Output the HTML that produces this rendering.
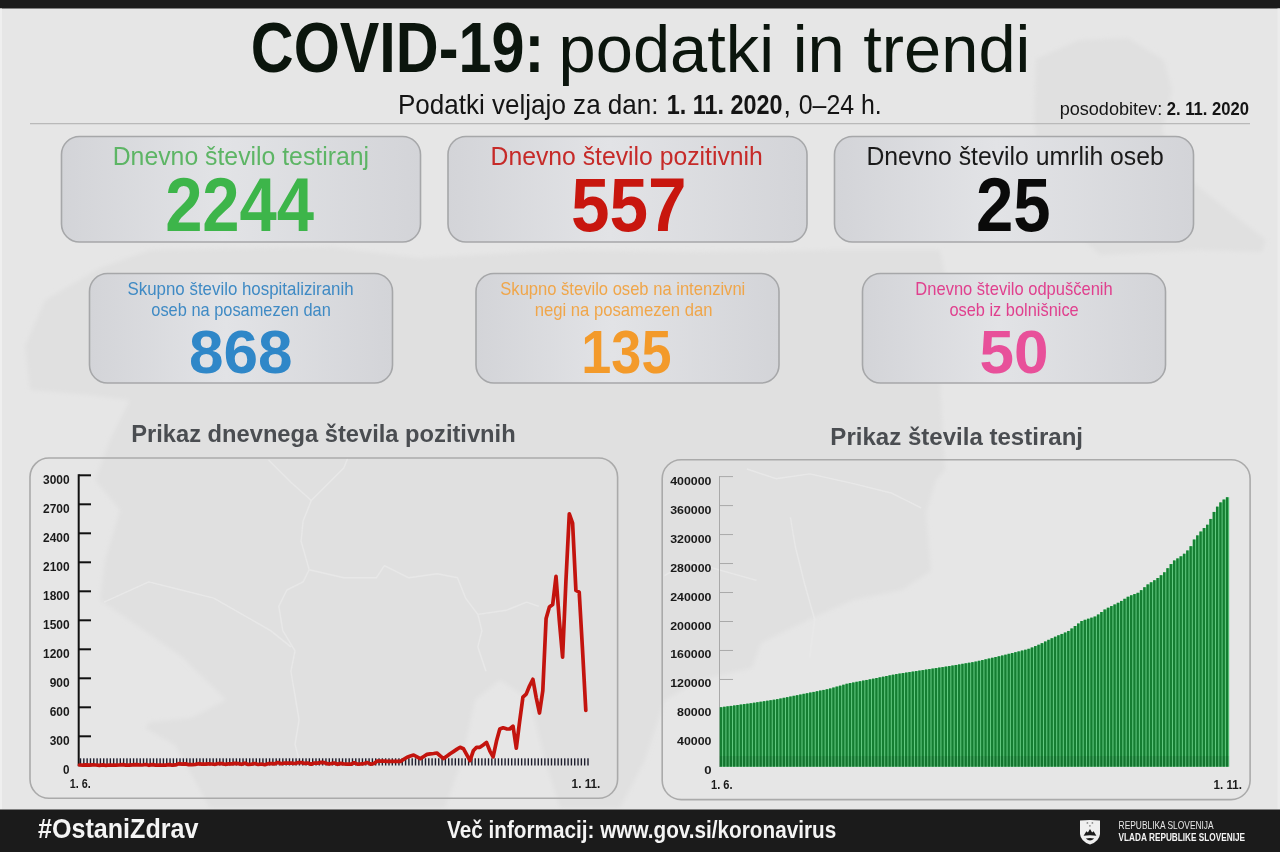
<!DOCTYPE html>
<html lang="sl"><head><meta charset="utf-8"><title>COVID-19: podatki in trendi</title>
<style>
html,body{margin:0;padding:0;background:#e6e6e6;}
body{width:1280px;height:852px;overflow:hidden;}
svg{display:block;}
svg text{font-family:"Liberation Sans", Arial, sans-serif;}
</style></head><body>
<svg width="1280" height="852" viewBox="0 0 1280 852">
<defs>
<linearGradient id="bx" x1="0" y1="0" x2="1" y2="0">
<stop offset="0" stop-color="#d3d4d8"/><stop offset="0.45" stop-color="#e2e3e6"/><stop offset="1" stop-color="#d3d4d8"/>
</linearGradient>
<filter id="soft" x="-5%" y="-5%" width="110%" height="110%"><feGaussianBlur stdDeviation="2"/></filter>
</defs>
<rect width="1280" height="852" fill="#e6e6e6"/>
<g fill="#e0e0e0" filter="url(#soft)">
<path d="M45,300 L100,268 L150,250 L330,247 L420,258 L560,250 L700,252 L830,250 L940,250 L950,300 L940,380 L945,470 L936,480 L926,513 L931,571 L902,590 L853,600 L810,619 L761,643 L752,668 L700,680 L665,700 L645,760 L620,808 L560,808 L545,760 L530,700 L500,680 L475,700 L462,760 L445,808 L210,808 L175,745 L145,728 L150,722 L191,718 L226,700 L182,657 L139,627 L100,600 L105,560 L120,510 L95,480 L110,440 L130,400 L90,395 L30,390 L25,346 Z"/>
<path d="M1036,59 L1079,40 L1128,38 L1164,60 L1172,90 L1162,130 L1178,170 L1215,200 L1266,240 L1262,252 L1200,250 L1100,255 L1045,205 L1034,120 Z"/>
</g>
<g fill="none" stroke="#e9e9e9" stroke-width="1.4" stroke-linejoin="round" opacity="0.9">
<polyline points="268.6,460 290.9,482.3 311.3,500.6 303.1,520.9 301.1,541.3 309.2,569.7 303.1,581.9 286.9,590 278.8,606.3 282.8,630.6 295,650.9 290.9,671.3 295,695.6 299.1,720 295,744.4 299.1,759.8"/>
<polyline points="311.3,500.6 343.8,468.1 347.8,458"/>
<polyline points="104,602.2 148.8,581.9 181.3,590 213.8,598.1 242.2,614.4 270.6,630.6 290.9,646.9"/>
<polyline points="309.2,569.7 343.8,577.8 376.3,577.8 384.4,565.6 408.8,577.8 437.2,573.8 457.5,577.8 465.6,598.1 477.8,614.4 481.9,630.6 477.8,646.9 485.9,671.3"/>
<polyline points="477.8,614.4 506.3,610.3 526.6,602.2 538.8,606.3"/>
<polyline points="664.5,575.6 688.7,561 722.6,570.8 756.5,580.4"/>
<polyline points="746.9,469 775.9,478.7 809.8,473.9 853.4,483.6 892.1,493.3 921.2,507.8"/>
<polyline points="790.4,517.5 795.3,546.5 805,585.3 814.6,619.2 809.8,657.9"/>
</g>
<rect x="0" y="0" width="1280" height="8.5" fill="#1b1b1b"/>
<rect x="0" y="8.5" width="2" height="801" fill="#efefef"/>
<rect x="1277.5" y="8.5" width="2.5" height="801" fill="#ececec"/>
<line x1="30" y1="123.6" x2="1250" y2="123.6" stroke="#b9b9b9" stroke-width="1.2"/>
<rect x="61.5" y="136.5" width="359" height="105.5" rx="18" ry="18" fill="url(#bx)" stroke="#a6a7a9" stroke-width="1.6"/>
<rect x="448" y="136.5" width="359" height="105.5" rx="18" ry="18" fill="url(#bx)" stroke="#a6a7a9" stroke-width="1.6"/>
<rect x="834.5" y="136.5" width="359" height="105.5" rx="18" ry="18" fill="url(#bx)" stroke="#a6a7a9" stroke-width="1.6"/>
<rect x="89.5" y="273.5" width="303" height="109.5" rx="18" ry="18" fill="url(#bx)" stroke="#a6a7a9" stroke-width="1.6"/>
<rect x="476" y="273.5" width="303" height="109.5" rx="18" ry="18" fill="url(#bx)" stroke="#a6a7a9" stroke-width="1.6"/>
<rect x="862.5" y="273.5" width="303" height="109.5" rx="18" ry="18" fill="url(#bx)" stroke="#a6a7a9" stroke-width="1.6"/>

<rect x="30" y="458" width="587.6" height="340.3" rx="19" ry="19" fill="none" stroke="#aaaaaa" stroke-width="1.6"/>
<rect x="662.2" y="459.7" width="587.9" height="339.9" rx="19" ry="19" fill="none" stroke="#aaaaaa" stroke-width="1.6"/>
<!-- left chart -->
<g stroke="#111" stroke-width="2">
<line x1="78.7" y1="474.2" x2="78.7" y2="766.3"/>
<line x1="78.7" y1="736.30" x2="91" y2="736.30"/><line x1="78.7" y1="707.30" x2="91" y2="707.30"/><line x1="78.7" y1="678.30" x2="91" y2="678.30"/><line x1="78.7" y1="649.30" x2="91" y2="649.30"/><line x1="78.7" y1="620.30" x2="91" y2="620.30"/><line x1="78.7" y1="591.30" x2="91" y2="591.30"/><line x1="78.7" y1="562.30" x2="91" y2="562.30"/><line x1="78.7" y1="533.30" x2="91" y2="533.30"/><line x1="78.7" y1="504.30" x2="91" y2="504.30"/><line x1="78.7" y1="475.30" x2="91" y2="475.30"/>
</g>
<g fill="#1c1c2c"><rect x="79.80" y="758.3" width="1.4" height="7.2"/><rect x="83.12" y="758.3" width="1.4" height="7.2"/><rect x="86.43" y="758.3" width="1.4" height="7.2"/><rect x="89.75" y="758.3" width="1.4" height="7.2"/><rect x="93.07" y="758.3" width="1.4" height="7.2"/><rect x="96.38" y="758.3" width="1.4" height="7.2"/><rect x="99.70" y="758.3" width="1.4" height="7.2"/><rect x="103.02" y="758.3" width="1.4" height="7.2"/><rect x="106.34" y="758.3" width="1.4" height="7.2"/><rect x="109.65" y="758.3" width="1.4" height="7.2"/><rect x="112.97" y="758.3" width="1.4" height="7.2"/><rect x="116.29" y="758.3" width="1.4" height="7.2"/><rect x="119.60" y="758.3" width="1.4" height="7.2"/><rect x="122.92" y="758.3" width="1.4" height="7.2"/><rect x="126.24" y="758.3" width="1.4" height="7.2"/><rect x="129.55" y="758.3" width="1.4" height="7.2"/><rect x="132.87" y="758.3" width="1.4" height="7.2"/><rect x="136.19" y="758.3" width="1.4" height="7.2"/><rect x="139.51" y="758.3" width="1.4" height="7.2"/><rect x="142.82" y="758.3" width="1.4" height="7.2"/><rect x="146.14" y="758.3" width="1.4" height="7.2"/><rect x="149.46" y="758.3" width="1.4" height="7.2"/><rect x="152.77" y="758.3" width="1.4" height="7.2"/><rect x="156.09" y="758.3" width="1.4" height="7.2"/><rect x="159.41" y="758.3" width="1.4" height="7.2"/><rect x="162.72" y="758.3" width="1.4" height="7.2"/><rect x="166.04" y="758.3" width="1.4" height="7.2"/><rect x="169.36" y="758.3" width="1.4" height="7.2"/><rect x="172.68" y="758.3" width="1.4" height="7.2"/><rect x="175.99" y="758.3" width="1.4" height="7.2"/><rect x="179.31" y="758.3" width="1.4" height="7.2"/><rect x="182.63" y="758.3" width="1.4" height="7.2"/><rect x="185.94" y="758.3" width="1.4" height="7.2"/><rect x="189.26" y="758.3" width="1.4" height="7.2"/><rect x="192.58" y="758.3" width="1.4" height="7.2"/><rect x="195.89" y="758.3" width="1.4" height="7.2"/><rect x="199.21" y="758.3" width="1.4" height="7.2"/><rect x="202.53" y="758.3" width="1.4" height="7.2"/><rect x="205.85" y="758.3" width="1.4" height="7.2"/><rect x="209.16" y="758.3" width="1.4" height="7.2"/><rect x="212.48" y="758.3" width="1.4" height="7.2"/><rect x="215.80" y="758.3" width="1.4" height="7.2"/><rect x="219.11" y="758.3" width="1.4" height="7.2"/><rect x="222.43" y="758.3" width="1.4" height="7.2"/><rect x="225.75" y="758.3" width="1.4" height="7.2"/><rect x="229.06" y="758.3" width="1.4" height="7.2"/><rect x="232.38" y="758.3" width="1.4" height="7.2"/><rect x="235.70" y="758.3" width="1.4" height="7.2"/><rect x="239.02" y="758.3" width="1.4" height="7.2"/><rect x="242.33" y="758.3" width="1.4" height="7.2"/><rect x="245.65" y="758.3" width="1.4" height="7.2"/><rect x="248.97" y="758.3" width="1.4" height="7.2"/><rect x="252.28" y="758.3" width="1.4" height="7.2"/><rect x="255.60" y="758.3" width="1.4" height="7.2"/><rect x="258.92" y="758.3" width="1.4" height="7.2"/><rect x="262.23" y="758.3" width="1.4" height="7.2"/><rect x="265.55" y="758.3" width="1.4" height="7.2"/><rect x="268.87" y="758.3" width="1.4" height="7.2"/><rect x="272.19" y="758.3" width="1.4" height="7.2"/><rect x="275.50" y="758.3" width="1.4" height="7.2"/><rect x="278.82" y="758.3" width="1.4" height="7.2"/><rect x="282.14" y="758.3" width="1.4" height="7.2"/><rect x="285.45" y="758.3" width="1.4" height="7.2"/><rect x="288.77" y="758.3" width="1.4" height="7.2"/><rect x="292.09" y="758.3" width="1.4" height="7.2"/><rect x="295.40" y="758.3" width="1.4" height="7.2"/><rect x="298.72" y="758.3" width="1.4" height="7.2"/><rect x="302.04" y="758.3" width="1.4" height="7.2"/><rect x="305.36" y="758.3" width="1.4" height="7.2"/><rect x="308.67" y="758.3" width="1.4" height="7.2"/><rect x="311.99" y="758.3" width="1.4" height="7.2"/><rect x="315.31" y="758.3" width="1.4" height="7.2"/><rect x="318.62" y="758.3" width="1.4" height="7.2"/><rect x="321.94" y="758.3" width="1.4" height="7.2"/><rect x="325.26" y="758.3" width="1.4" height="7.2"/><rect x="328.57" y="758.3" width="1.4" height="7.2"/><rect x="331.89" y="758.3" width="1.4" height="7.2"/><rect x="335.21" y="758.3" width="1.4" height="7.2"/><rect x="338.53" y="758.3" width="1.4" height="7.2"/><rect x="341.84" y="758.3" width="1.4" height="7.2"/><rect x="345.16" y="758.3" width="1.4" height="7.2"/><rect x="348.48" y="758.3" width="1.4" height="7.2"/><rect x="351.79" y="758.3" width="1.4" height="7.2"/><rect x="355.11" y="758.3" width="1.4" height="7.2"/><rect x="358.43" y="758.3" width="1.4" height="7.2"/><rect x="361.74" y="758.3" width="1.4" height="7.2"/><rect x="365.06" y="758.3" width="1.4" height="7.2"/><rect x="368.38" y="758.3" width="1.4" height="7.2"/><rect x="371.70" y="758.3" width="1.4" height="7.2"/><rect x="375.01" y="758.3" width="1.4" height="7.2"/><rect x="378.33" y="758.3" width="1.4" height="7.2"/><rect x="381.65" y="758.3" width="1.4" height="7.2"/><rect x="384.96" y="758.3" width="1.4" height="7.2"/><rect x="388.28" y="758.3" width="1.4" height="7.2"/><rect x="391.60" y="758.3" width="1.4" height="7.2"/><rect x="394.91" y="758.3" width="1.4" height="7.2"/><rect x="398.23" y="758.3" width="1.4" height="7.2"/><rect x="401.55" y="758.3" width="1.4" height="7.2"/><rect x="404.87" y="758.3" width="1.4" height="7.2"/><rect x="408.18" y="758.3" width="1.4" height="7.2"/><rect x="411.50" y="758.3" width="1.4" height="7.2"/><rect x="414.82" y="758.3" width="1.4" height="7.2"/><rect x="418.13" y="758.3" width="1.4" height="7.2"/><rect x="421.45" y="758.3" width="1.4" height="7.2"/><rect x="424.77" y="758.3" width="1.4" height="7.2"/><rect x="428.08" y="758.3" width="1.4" height="7.2"/><rect x="431.40" y="758.3" width="1.4" height="7.2"/><rect x="434.72" y="758.3" width="1.4" height="7.2"/><rect x="438.04" y="758.3" width="1.4" height="7.2"/><rect x="441.35" y="758.3" width="1.4" height="7.2"/><rect x="444.67" y="758.3" width="1.4" height="7.2"/><rect x="447.99" y="758.3" width="1.4" height="7.2"/><rect x="451.30" y="758.3" width="1.4" height="7.2"/><rect x="454.62" y="758.3" width="1.4" height="7.2"/><rect x="457.94" y="758.3" width="1.4" height="7.2"/><rect x="461.25" y="758.3" width="1.4" height="7.2"/><rect x="464.57" y="758.3" width="1.4" height="7.2"/><rect x="467.89" y="758.3" width="1.4" height="7.2"/><rect x="471.21" y="758.3" width="1.4" height="7.2"/><rect x="474.52" y="758.3" width="1.4" height="7.2"/><rect x="477.84" y="758.3" width="1.4" height="7.2"/><rect x="481.16" y="758.3" width="1.4" height="7.2"/><rect x="484.47" y="758.3" width="1.4" height="7.2"/><rect x="487.79" y="758.3" width="1.4" height="7.2"/><rect x="491.11" y="758.3" width="1.4" height="7.2"/><rect x="494.42" y="758.3" width="1.4" height="7.2"/><rect x="497.74" y="758.3" width="1.4" height="7.2"/><rect x="501.06" y="758.3" width="1.4" height="7.2"/><rect x="504.38" y="758.3" width="1.4" height="7.2"/><rect x="507.69" y="758.3" width="1.4" height="7.2"/><rect x="511.01" y="758.3" width="1.4" height="7.2"/><rect x="514.33" y="758.3" width="1.4" height="7.2"/><rect x="517.64" y="758.3" width="1.4" height="7.2"/><rect x="520.96" y="758.3" width="1.4" height="7.2"/><rect x="524.28" y="758.3" width="1.4" height="7.2"/><rect x="527.59" y="758.3" width="1.4" height="7.2"/><rect x="530.91" y="758.3" width="1.4" height="7.2"/><rect x="534.23" y="758.3" width="1.4" height="7.2"/><rect x="537.55" y="758.3" width="1.4" height="7.2"/><rect x="540.86" y="758.3" width="1.4" height="7.2"/><rect x="544.18" y="758.3" width="1.4" height="7.2"/><rect x="547.50" y="758.3" width="1.4" height="7.2"/><rect x="550.81" y="758.3" width="1.4" height="7.2"/><rect x="554.13" y="758.3" width="1.4" height="7.2"/><rect x="557.45" y="758.3" width="1.4" height="7.2"/><rect x="560.76" y="758.3" width="1.4" height="7.2"/><rect x="564.08" y="758.3" width="1.4" height="7.2"/><rect x="567.40" y="758.3" width="1.4" height="7.2"/><rect x="570.72" y="758.3" width="1.4" height="7.2"/><rect x="574.03" y="758.3" width="1.4" height="7.2"/><rect x="577.35" y="758.3" width="1.4" height="7.2"/><rect x="580.67" y="758.3" width="1.4" height="7.2"/><rect x="583.98" y="758.3" width="1.4" height="7.2"/><rect x="587.30" y="758.3" width="1.4" height="7.2"/></g>
<polyline points="79.5,765.0 82.8,765.2 86.1,764.8 89.4,765.2 92.7,764.9 96.0,765.0 99.4,765.3 102.7,764.9 106.0,765.3 109.3,765.0 112.6,765.2 115.9,765.2 119.2,765.0 122.5,764.7 125.8,765.2 129.1,765.1 132.4,764.8 135.8,764.6 139.1,764.9 142.4,765.0 145.7,764.5 149.0,765.3 152.3,764.6 155.6,765.1 158.9,765.2 162.2,765.2 165.5,765.1 168.8,764.7 172.2,765.2 175.5,764.9 178.8,763.7 182.1,764.1 185.4,763.9 188.7,764.6 192.0,764.6 195.3,764.4 198.6,763.7 201.9,764.1 205.2,764.2 208.6,763.8 211.9,764.0 215.2,764.3 218.5,763.5 221.8,763.6 225.1,764.3 228.4,763.8 231.7,763.9 235.0,763.4 238.3,763.6 241.6,764.3 245.0,763.2 248.3,764.5 251.6,764.1 254.9,763.5 258.2,764.5 261.5,764.0 264.8,764.7 268.1,763.7 271.4,763.5 274.7,763.8 278.0,762.6 281.4,763.7 284.7,763.0 288.0,763.2 291.3,763.2 294.6,763.5 297.9,762.7 301.2,762.5 304.5,763.4 307.8,763.0 311.1,764.2 314.4,763.0 317.8,763.1 321.1,762.4 324.4,762.7 327.7,763.8 331.0,763.6 334.3,763.0 337.6,764.3 340.9,763.4 344.2,764.0 347.5,764.1 350.9,764.2 354.2,762.8 357.5,764.1 360.8,763.9 364.1,763.6 367.4,762.6 370.7,764.2 374.0,763.5 377.3,761.1 380.6,761.2 383.9,761.2 387.3,761.3 390.6,761.3 393.9,761.4 397.2,761.4 400.5,761.4 403.8,759.3 407.1,757.2 410.4,756.1 413.7,755.0 417.0,756.8 420.3,758.6 423.7,756.5 427.0,754.4 430.3,753.9 433.6,753.5 436.9,753.0 440.2,755.8 443.5,758.6 446.8,756.2 450.1,753.7 453.4,751.6 456.7,749.4 460.1,747.3 463.4,748.7 466.7,754.7 470.0,760.7 473.3,750.8 476.6,747.3 479.9,747.3 483.2,745.0 486.5,742.4 489.8,750.8 493.1,756.8 496.5,741.1 499.8,729.0 503.1,727.8 506.4,728.8 509.7,729.0 513.0,726.1 516.3,748.2 519.6,721.8 522.9,697.2 526.2,694.1 529.5,686.0 532.9,679.3 536.2,697.6 539.5,713.0 542.8,690.8 546.1,618.4 549.4,606.9 552.7,604.5 556.0,576.4 559.3,620.3 562.6,657.1 565.9,581.6 569.3,513.9 572.6,523.1 575.9,590.4 579.2,592.1 582.5,649.3 585.8,710.4" fill="none" stroke="#c3140e" stroke-width="3.7" stroke-linejoin="round" stroke-linecap="round"/>
<!-- right chart -->
<g stroke="#a9a9a9" stroke-width="1">
<line x1="719.5" y1="476" x2="719.5" y2="767"/>
<line x1="719.5" y1="737.42" x2="733" y2="737.42"/><line x1="719.5" y1="708.44" x2="733" y2="708.44"/><line x1="719.5" y1="679.46" x2="733" y2="679.46"/><line x1="719.5" y1="650.48" x2="733" y2="650.48"/><line x1="719.5" y1="621.50" x2="733" y2="621.50"/><line x1="719.5" y1="592.52" x2="733" y2="592.52"/><line x1="719.5" y1="563.54" x2="733" y2="563.54"/><line x1="719.5" y1="534.56" x2="733" y2="534.56"/><line x1="719.5" y1="505.58" x2="733" y2="505.58"/><line x1="719.5" y1="476.60" x2="733" y2="476.60"/>
</g>
<path d="M719.80,766.70 L719.80,707.22 L723.11,707.22 L723.11,706.77 L726.42,706.77 L726.42,706.33 L729.72,706.33 L729.72,705.88 L733.03,705.88 L733.03,705.44 L736.34,705.44 L736.34,704.99 L739.65,704.99 L739.65,704.54 L742.95,704.54 L742.95,704.10 L746.26,704.10 L746.26,703.65 L749.57,703.65 L749.57,703.19 L752.88,703.19 L752.88,702.69 L756.19,702.69 L756.19,702.19 L759.49,702.19 L759.49,701.69 L762.80,701.69 L762.80,701.20 L766.11,701.20 L766.11,700.70 L769.42,700.70 L769.42,700.20 L772.72,700.20 L772.72,699.70 L776.03,699.70 L776.03,699.14 L779.34,699.14 L779.34,698.48 L782.65,698.48 L782.65,697.83 L785.96,697.83 L785.96,697.17 L789.26,697.17 L789.26,696.51 L792.57,696.51 L792.57,695.85 L795.88,695.85 L795.88,695.19 L799.19,695.19 L799.19,694.53 L802.49,694.53 L802.49,693.87 L805.80,693.87 L805.80,693.21 L809.11,693.21 L809.11,692.55 L812.42,692.55 L812.42,691.89 L815.73,691.89 L815.73,691.22 L819.03,691.22 L819.03,690.56 L822.34,690.56 L822.34,689.90 L825.65,689.90 L825.65,689.24 L828.96,689.24 L828.96,688.48 L832.26,688.48 L832.26,687.54 L835.57,687.54 L835.57,686.60 L838.88,686.60 L838.88,685.66 L842.19,685.66 L842.19,684.71 L845.50,684.71 L845.50,683.77 L848.80,683.77 L848.80,683.06 L852.11,683.06 L852.11,682.44 L855.42,682.44 L855.42,681.81 L858.73,681.81 L858.73,681.19 L862.04,681.19 L862.04,680.57 L865.34,680.57 L865.34,679.95 L868.65,679.95 L868.65,679.32 L871.96,679.32 L871.96,678.66 L875.27,678.66 L875.27,678.00 L878.57,678.00 L878.57,677.33 L881.88,677.33 L881.88,676.67 L885.19,676.67 L885.19,676.01 L888.50,676.01 L888.50,675.35 L891.81,675.35 L891.81,674.69 L895.11,674.69 L895.11,674.07 L898.42,674.07 L898.42,673.57 L901.73,673.57 L901.73,673.07 L905.04,673.07 L905.04,672.58 L908.34,672.58 L908.34,672.08 L911.65,672.08 L911.65,671.58 L914.96,671.58 L914.96,671.09 L918.27,671.09 L918.27,670.59 L921.58,670.59 L921.58,670.09 L924.88,670.09 L924.88,669.59 L928.19,669.59 L928.19,669.09 L931.50,669.09 L931.50,668.59 L934.81,668.59 L934.81,668.09 L938.11,668.09 L938.11,667.59 L941.42,667.59 L941.42,667.09 L944.73,667.09 L944.73,666.59 L948.04,666.59 L948.04,666.08 L951.35,666.08 L951.35,665.52 L954.65,665.52 L954.65,664.96 L957.96,664.96 L957.96,664.40 L961.27,664.40 L961.27,663.84 L964.58,663.84 L964.58,663.29 L967.88,663.29 L967.88,662.73 L971.19,662.73 L971.19,662.17 L974.50,662.17 L974.50,661.57 L977.81,661.57 L977.81,660.81 L981.12,660.81 L981.12,660.06 L984.42,660.06 L984.42,659.30 L987.73,659.30 L987.73,658.54 L991.04,658.54 L991.04,657.78 L994.35,657.78 L994.35,657.02 L997.65,657.02 L997.65,656.26 L1000.96,656.26 L1000.96,655.50 L1004.27,655.50 L1004.27,654.67 L1007.58,654.67 L1007.58,653.85 L1010.89,653.85 L1010.89,653.02 L1014.19,653.02 L1014.19,652.20 L1017.50,652.20 L1017.50,651.38 L1020.81,651.38 L1020.81,650.55 L1024.12,650.55 L1024.12,649.73 L1027.42,649.73 L1027.42,648.84 L1030.73,648.84 L1030.73,647.47 L1034.04,647.47 L1034.04,646.09 L1037.35,646.09 L1037.35,644.72 L1040.66,644.72 L1040.66,643.15 L1043.96,643.15 L1043.96,641.51 L1047.27,641.51 L1047.27,639.87 L1050.58,639.87 L1050.58,638.23 L1053.89,638.23 L1053.89,636.70 L1057.19,636.70 L1057.19,635.31 L1060.50,635.31 L1060.50,633.93 L1063.81,633.93 L1063.81,632.54 L1067.12,632.54 L1067.12,630.97 L1070.43,630.97 L1070.43,628.48 L1073.73,628.48 L1073.73,626.00 L1077.04,626.00 L1077.04,623.51 L1080.35,623.51 L1080.35,621.02 L1083.66,621.02 L1083.66,619.81 L1086.96,619.81 L1086.96,618.72 L1090.27,618.72 L1090.27,617.64 L1093.58,617.64 L1093.58,616.55 L1096.89,616.55 L1096.89,614.51 L1100.20,614.51 L1100.20,612.01 L1103.50,612.01 L1103.50,609.51 L1106.81,609.51 L1106.81,607.73 L1110.12,607.73 L1110.12,606.08 L1113.43,606.08 L1113.43,604.44 L1116.74,604.44 L1116.74,602.80 L1120.04,602.80 L1120.04,600.91 L1123.35,600.91 L1123.35,598.83 L1126.66,598.83 L1126.66,596.76 L1129.97,596.76 L1129.97,595.30 L1133.27,595.30 L1133.27,594.07 L1136.58,594.07 L1136.58,592.84 L1139.89,592.84 L1139.89,590.13 L1143.20,590.13 L1143.20,587.25 L1146.51,587.25 L1146.51,584.40 L1149.81,584.40 L1149.81,582.32 L1153.12,582.32 L1153.12,580.25 L1156.43,580.25 L1156.43,578.02 L1159.74,578.02 L1159.74,575.24 L1163.04,575.24 L1163.04,572.33 L1166.35,572.33 L1166.35,568.21 L1169.66,568.21 L1169.66,564.09 L1172.97,564.09 L1172.97,560.48 L1176.28,560.48 L1176.28,558.41 L1179.58,558.41 L1179.58,556.33 L1182.89,556.33 L1182.89,553.76 L1186.20,553.76 L1186.20,550.45 L1189.51,550.45 L1189.51,546.18 L1192.81,546.18 L1192.81,539.56 L1196.12,539.56 L1196.12,535.38 L1199.43,535.38 L1199.43,531.56 L1202.74,531.56 L1202.74,528.07 L1206.05,528.07 L1206.05,524.72 L1209.35,524.72 L1209.35,518.92 L1212.66,518.92 L1212.66,511.92 L1215.97,511.92 L1215.97,506.65 L1219.28,506.65 L1219.28,502.38 L1222.58,502.38 L1222.58,499.59 L1225.89,499.59 L1225.89,497.28 L1229.20,497.28 L1229.20,766.70 Z" fill="#66cc84"/>
<g fill="#157e32"><rect x="719.80" y="707.22" width="2.31" height="59.48"/><rect x="723.11" y="706.77" width="2.31" height="59.93"/><rect x="726.42" y="706.33" width="2.31" height="60.37"/><rect x="729.72" y="705.88" width="2.31" height="60.82"/><rect x="733.03" y="705.44" width="2.31" height="61.26"/><rect x="736.34" y="704.99" width="2.31" height="61.71"/><rect x="739.65" y="704.54" width="2.31" height="62.16"/><rect x="742.95" y="704.10" width="2.31" height="62.60"/><rect x="746.26" y="703.65" width="2.31" height="63.05"/><rect x="749.57" y="703.19" width="2.31" height="63.51"/><rect x="752.88" y="702.69" width="2.31" height="64.01"/><rect x="756.19" y="702.19" width="2.31" height="64.51"/><rect x="759.49" y="701.69" width="2.31" height="65.01"/><rect x="762.80" y="701.20" width="2.31" height="65.50"/><rect x="766.11" y="700.70" width="2.31" height="66.00"/><rect x="769.42" y="700.20" width="2.31" height="66.50"/><rect x="772.72" y="699.70" width="2.31" height="67.00"/><rect x="776.03" y="699.14" width="2.31" height="67.56"/><rect x="779.34" y="698.48" width="2.31" height="68.22"/><rect x="782.65" y="697.83" width="2.31" height="68.87"/><rect x="785.96" y="697.17" width="2.31" height="69.53"/><rect x="789.26" y="696.51" width="2.31" height="70.19"/><rect x="792.57" y="695.85" width="2.31" height="70.85"/><rect x="795.88" y="695.19" width="2.31" height="71.51"/><rect x="799.19" y="694.53" width="2.31" height="72.17"/><rect x="802.49" y="693.87" width="2.31" height="72.83"/><rect x="805.80" y="693.21" width="2.31" height="73.49"/><rect x="809.11" y="692.55" width="2.31" height="74.15"/><rect x="812.42" y="691.89" width="2.31" height="74.81"/><rect x="815.73" y="691.22" width="2.31" height="75.48"/><rect x="819.03" y="690.56" width="2.31" height="76.14"/><rect x="822.34" y="689.90" width="2.31" height="76.80"/><rect x="825.65" y="689.24" width="2.31" height="77.46"/><rect x="828.96" y="688.48" width="2.31" height="78.22"/><rect x="832.26" y="687.54" width="2.31" height="79.16"/><rect x="835.57" y="686.60" width="2.31" height="80.10"/><rect x="838.88" y="685.66" width="2.31" height="81.04"/><rect x="842.19" y="684.71" width="2.31" height="81.99"/><rect x="845.50" y="683.77" width="2.31" height="82.93"/><rect x="848.80" y="683.06" width="2.31" height="83.64"/><rect x="852.11" y="682.44" width="2.31" height="84.26"/><rect x="855.42" y="681.81" width="2.31" height="84.89"/><rect x="858.73" y="681.19" width="2.31" height="85.51"/><rect x="862.04" y="680.57" width="2.31" height="86.13"/><rect x="865.34" y="679.95" width="2.31" height="86.75"/><rect x="868.65" y="679.32" width="2.31" height="87.38"/><rect x="871.96" y="678.66" width="2.31" height="88.04"/><rect x="875.27" y="678.00" width="2.31" height="88.70"/><rect x="878.57" y="677.33" width="2.31" height="89.37"/><rect x="881.88" y="676.67" width="2.31" height="90.03"/><rect x="885.19" y="676.01" width="2.31" height="90.69"/><rect x="888.50" y="675.35" width="2.31" height="91.35"/><rect x="891.81" y="674.69" width="2.31" height="92.01"/><rect x="895.11" y="674.07" width="2.31" height="92.63"/><rect x="898.42" y="673.57" width="2.31" height="93.13"/><rect x="901.73" y="673.07" width="2.31" height="93.63"/><rect x="905.04" y="672.58" width="2.31" height="94.12"/><rect x="908.34" y="672.08" width="2.31" height="94.62"/><rect x="911.65" y="671.58" width="2.31" height="95.12"/><rect x="914.96" y="671.09" width="2.31" height="95.61"/><rect x="918.27" y="670.59" width="2.31" height="96.11"/><rect x="921.58" y="670.09" width="2.31" height="96.61"/><rect x="924.88" y="669.59" width="2.31" height="97.11"/><rect x="928.19" y="669.09" width="2.31" height="97.61"/><rect x="931.50" y="668.59" width="2.31" height="98.11"/><rect x="934.81" y="668.09" width="2.31" height="98.61"/><rect x="938.11" y="667.59" width="2.31" height="99.11"/><rect x="941.42" y="667.09" width="2.31" height="99.61"/><rect x="944.73" y="666.59" width="2.31" height="100.11"/><rect x="948.04" y="666.08" width="2.31" height="100.62"/><rect x="951.35" y="665.52" width="2.31" height="101.18"/><rect x="954.65" y="664.96" width="2.31" height="101.74"/><rect x="957.96" y="664.40" width="2.31" height="102.30"/><rect x="961.27" y="663.84" width="2.31" height="102.86"/><rect x="964.58" y="663.29" width="2.31" height="103.41"/><rect x="967.88" y="662.73" width="2.31" height="103.97"/><rect x="971.19" y="662.17" width="2.31" height="104.53"/><rect x="974.50" y="661.57" width="2.31" height="105.13"/><rect x="977.81" y="660.81" width="2.31" height="105.89"/><rect x="981.12" y="660.06" width="2.31" height="106.64"/><rect x="984.42" y="659.30" width="2.31" height="107.40"/><rect x="987.73" y="658.54" width="2.31" height="108.16"/><rect x="991.04" y="657.78" width="2.31" height="108.92"/><rect x="994.35" y="657.02" width="2.31" height="109.68"/><rect x="997.65" y="656.26" width="2.31" height="110.44"/><rect x="1000.96" y="655.50" width="2.31" height="111.20"/><rect x="1004.27" y="654.67" width="2.31" height="112.03"/><rect x="1007.58" y="653.85" width="2.31" height="112.85"/><rect x="1010.89" y="653.02" width="2.31" height="113.68"/><rect x="1014.19" y="652.20" width="2.31" height="114.50"/><rect x="1017.50" y="651.38" width="2.31" height="115.32"/><rect x="1020.81" y="650.55" width="2.31" height="116.15"/><rect x="1024.12" y="649.73" width="2.31" height="116.97"/><rect x="1027.42" y="648.84" width="2.31" height="117.86"/><rect x="1030.73" y="647.47" width="2.31" height="119.23"/><rect x="1034.04" y="646.09" width="2.31" height="120.61"/><rect x="1037.35" y="644.72" width="2.31" height="121.98"/><rect x="1040.66" y="643.15" width="2.31" height="123.55"/><rect x="1043.96" y="641.51" width="2.31" height="125.19"/><rect x="1047.27" y="639.87" width="2.31" height="126.83"/><rect x="1050.58" y="638.23" width="2.31" height="128.47"/><rect x="1053.89" y="636.70" width="2.31" height="130.00"/><rect x="1057.19" y="635.31" width="2.31" height="131.39"/><rect x="1060.50" y="633.93" width="2.31" height="132.77"/><rect x="1063.81" y="632.54" width="2.31" height="134.16"/><rect x="1067.12" y="630.97" width="2.31" height="135.73"/><rect x="1070.43" y="628.48" width="2.31" height="138.22"/><rect x="1073.73" y="626.00" width="2.31" height="140.70"/><rect x="1077.04" y="623.51" width="2.31" height="143.19"/><rect x="1080.35" y="621.02" width="2.31" height="145.68"/><rect x="1083.66" y="619.81" width="2.31" height="146.89"/><rect x="1086.96" y="618.72" width="2.31" height="147.98"/><rect x="1090.27" y="617.64" width="2.31" height="149.06"/><rect x="1093.58" y="616.55" width="2.31" height="150.15"/><rect x="1096.89" y="614.51" width="2.31" height="152.19"/><rect x="1100.20" y="612.01" width="2.31" height="154.69"/><rect x="1103.50" y="609.51" width="2.31" height="157.19"/><rect x="1106.81" y="607.73" width="2.31" height="158.97"/><rect x="1110.12" y="606.08" width="2.31" height="160.62"/><rect x="1113.43" y="604.44" width="2.31" height="162.26"/><rect x="1116.74" y="602.80" width="2.31" height="163.90"/><rect x="1120.04" y="600.91" width="2.31" height="165.79"/><rect x="1123.35" y="598.83" width="2.31" height="167.87"/><rect x="1126.66" y="596.76" width="2.31" height="169.94"/><rect x="1129.97" y="595.30" width="2.31" height="171.40"/><rect x="1133.27" y="594.07" width="2.31" height="172.63"/><rect x="1136.58" y="592.84" width="2.31" height="173.86"/><rect x="1139.89" y="590.13" width="2.31" height="176.57"/><rect x="1143.20" y="587.25" width="2.31" height="179.45"/><rect x="1146.51" y="584.40" width="2.31" height="182.30"/><rect x="1149.81" y="582.32" width="2.31" height="184.38"/><rect x="1153.12" y="580.25" width="2.31" height="186.45"/><rect x="1156.43" y="578.02" width="2.31" height="188.68"/><rect x="1159.74" y="575.24" width="2.31" height="191.46"/><rect x="1163.04" y="572.33" width="2.31" height="194.37"/><rect x="1166.35" y="568.21" width="2.31" height="198.49"/><rect x="1169.66" y="564.09" width="2.31" height="202.61"/><rect x="1172.97" y="560.48" width="2.31" height="206.22"/><rect x="1176.28" y="558.41" width="2.31" height="208.29"/><rect x="1179.58" y="556.33" width="2.31" height="210.37"/><rect x="1182.89" y="553.76" width="2.31" height="212.94"/><rect x="1186.20" y="550.45" width="2.31" height="216.25"/><rect x="1189.51" y="546.18" width="2.31" height="220.52"/><rect x="1192.81" y="539.56" width="2.31" height="227.14"/><rect x="1196.12" y="535.38" width="2.31" height="231.32"/><rect x="1199.43" y="531.56" width="2.31" height="235.14"/><rect x="1202.74" y="528.07" width="2.31" height="238.63"/><rect x="1206.05" y="524.72" width="2.31" height="241.98"/><rect x="1209.35" y="518.92" width="2.31" height="247.78"/><rect x="1212.66" y="511.92" width="2.31" height="254.78"/><rect x="1215.97" y="506.65" width="2.31" height="260.05"/><rect x="1219.28" y="502.38" width="2.31" height="264.32"/><rect x="1222.58" y="499.59" width="2.31" height="267.11"/><rect x="1225.89" y="497.28" width="2.31" height="269.42"/></g>
<rect x="719.8" y="756" width="509.4" height="10.7" fill="#000" fill-opacity="0.08"/>
<!-- footer -->
<rect x="0" y="809.5" width="1280" height="42.5" fill="#1b1b1b"/>
<path d="M1080,820.6 Q1090,819.2 1100,820.6 L1100,834 Q1099.5,841.2 1090,844.6 Q1080.5,841.2 1080,834 Z" fill="#efefef"/>
<path d="M1083.6,835.8 L1086.4,831.2 L1087.9,832.6 L1090,828.9 L1092.1,832.6 L1093.6,831.2 L1096.4,835.8 Q1090,834.6 1083.6,835.8 Z" fill="#1b1b1b"/>
<path d="M1085.8,838.4 Q1090,837.4 1094.2,838.4 Q1090,842.4 1085.8,838.4 Z" fill="#1b1b1b"/>
<g fill="#8a8a8a"><circle cx="1087.4" cy="822.9" r="0.9"/><circle cx="1092.4" cy="822.9" r="0.9"/><circle cx="1089.9" cy="825.8" r="0.9"/></g>
<text x="250.81" y="72.00" font-size="70" font-weight="bold" fill="#0b150d" textLength="293.34" lengthAdjust="spacingAndGlyphs">COVID-19:</text>
<text x="558.61" y="72.00" font-size="67" fill="#0b150d" textLength="471.87" lengthAdjust="spacingAndGlyphs">podatki in trendi</text>
<text x="397.91" y="114.40" font-size="27.6" fill="#141414" textLength="260.66" lengthAdjust="spacingAndGlyphs">Podatki veljajo za dan:</text>
<text x="666.75" y="114.40" font-size="27.6" font-weight="bold" fill="#141414" textLength="115.84" lengthAdjust="spacingAndGlyphs">1. 11. 2020</text>
<text x="783.35" y="114.40" font-size="27.6" fill="#141414" textLength="7.86" lengthAdjust="spacingAndGlyphs">,</text>
<text x="798.70" y="114.40" font-size="27.6" fill="#141414" textLength="83.11" lengthAdjust="spacingAndGlyphs">0–24 h.</text>
<text x="1059.67" y="114.60" font-size="17.5" fill="#141414" textLength="102.52" lengthAdjust="spacingAndGlyphs">posodobitev:</text>
<text x="1166.80" y="114.60" font-size="17.5" font-weight="bold" fill="#141414" textLength="82.25" lengthAdjust="spacingAndGlyphs">2. 11. 2020</text>
<text x="112.73" y="164.90" font-size="25.2" fill="#5db565" textLength="256.34" lengthAdjust="spacingAndGlyphs">Dnevno število testiranj</text>
<text x="490.54" y="164.90" font-size="25.2" fill="#c62a28" textLength="272.36" lengthAdjust="spacingAndGlyphs">Dnevno število pozitivnih</text>
<text x="866.43" y="164.90" font-size="25.2" fill="#1a1a1a" textLength="297.36" lengthAdjust="spacingAndGlyphs">Dnevno število umrlih oseb</text>
<text x="165.13" y="231.00" font-size="75.8" font-weight="bold" fill="#3db54a" textLength="149.00" lengthAdjust="spacingAndGlyphs">2244</text>
<text x="570.97" y="231.00" font-size="75.8" font-weight="bold" fill="#c8160e" textLength="115.72" lengthAdjust="spacingAndGlyphs">557</text>
<text x="976.03" y="231.00" font-size="75.8" font-weight="bold" fill="#0a0a0a" textLength="74.69" lengthAdjust="spacingAndGlyphs">25</text>
<text x="127.50" y="295.00" font-size="17.8" fill="#3f8ac4" textLength="226.14" lengthAdjust="spacingAndGlyphs">Skupno število hospitaliziranih</text>
<text x="151.30" y="316.30" font-size="17.8" fill="#3f8ac4" textLength="179.52" lengthAdjust="spacingAndGlyphs">oseb na posamezen dan</text>
<text x="500.30" y="295.00" font-size="17.8" fill="#f0a64a" textLength="244.99" lengthAdjust="spacingAndGlyphs">Skupno število oseb na intenzivni</text>
<text x="534.66" y="316.30" font-size="17.8" fill="#f0a64a" textLength="177.77" lengthAdjust="spacingAndGlyphs">negi na posamezen dan</text>
<text x="915.37" y="295.00" font-size="17.8" fill="#e0408e" textLength="197.35" lengthAdjust="spacingAndGlyphs">Dnevno število odpuščenih</text>
<text x="949.40" y="316.30" font-size="17.8" fill="#e0408e" textLength="129.30" lengthAdjust="spacingAndGlyphs">oseb iz bolnišnice</text>
<text x="188.97" y="372.50" font-size="60.5" font-weight="bold" fill="#2f87c8" textLength="103.62" lengthAdjust="spacingAndGlyphs">868</text>
<text x="581.32" y="372.50" font-size="60.5" font-weight="bold" fill="#f39a2a" textLength="90.15" lengthAdjust="spacingAndGlyphs">135</text>
<text x="979.57" y="372.50" font-size="60.5" font-weight="bold" fill="#e8509a" textLength="69.01" lengthAdjust="spacingAndGlyphs">50</text>
<text x="131.24" y="442.20" font-size="24.7" font-weight="bold" fill="#4a4d51" textLength="384.40" lengthAdjust="spacingAndGlyphs">Prikaz dnevnega števila pozitivnih</text>
<text x="830.39" y="445.00" font-size="23.8" font-weight="bold" fill="#4a4d51" textLength="252.64" lengthAdjust="spacingAndGlyphs">Prikaz števila testiranj</text>
<text x="38.00" y="838.00" font-size="28" font-weight="bold" fill="#f4f4f4" textLength="160.42" lengthAdjust="spacingAndGlyphs">#OstaniZdrav</text>
<text x="447.00" y="838.00" font-size="24.7" font-weight="bold" fill="#f4f4f4" textLength="389.21" lengthAdjust="spacingAndGlyphs">Več informacij: www.gov.si/koronavirus</text>
<text x="1118.60" y="829.20" font-size="10.6" fill="#e8e8e8" textLength="95.06" lengthAdjust="spacingAndGlyphs">REPUBLIKA SLOVENIJA</text>
<text x="1118.60" y="840.60" font-size="10.6" font-weight="bold" fill="#f4f4f4" textLength="126.45" lengthAdjust="spacingAndGlyphs">VLADA REPUBLIKE SLOVENIJE</text>
<text x="63.10" y="773.80" font-size="12.2" font-weight="bold" fill="#1a1a1a" textLength="6.49" lengthAdjust="spacingAndGlyphs">0</text>
<text x="49.70" y="744.80" font-size="12.2" font-weight="bold" fill="#1a1a1a" textLength="19.88" lengthAdjust="spacingAndGlyphs">300</text>
<text x="49.70" y="715.80" font-size="12.2" font-weight="bold" fill="#1a1a1a" textLength="19.88" lengthAdjust="spacingAndGlyphs">600</text>
<text x="49.70" y="686.80" font-size="12.2" font-weight="bold" fill="#1a1a1a" textLength="19.88" lengthAdjust="spacingAndGlyphs">900</text>
<text x="43.00" y="657.80" font-size="12.2" font-weight="bold" fill="#1a1a1a" textLength="26.58" lengthAdjust="spacingAndGlyphs">1200</text>
<text x="43.00" y="628.80" font-size="12.2" font-weight="bold" fill="#1a1a1a" textLength="26.58" lengthAdjust="spacingAndGlyphs">1500</text>
<text x="43.00" y="599.80" font-size="12.2" font-weight="bold" fill="#1a1a1a" textLength="26.58" lengthAdjust="spacingAndGlyphs">1800</text>
<text x="43.00" y="570.80" font-size="12.2" font-weight="bold" fill="#1a1a1a" textLength="26.58" lengthAdjust="spacingAndGlyphs">2100</text>
<text x="43.00" y="541.80" font-size="12.2" font-weight="bold" fill="#1a1a1a" textLength="26.58" lengthAdjust="spacingAndGlyphs">2400</text>
<text x="43.00" y="512.80" font-size="12.2" font-weight="bold" fill="#1a1a1a" textLength="26.58" lengthAdjust="spacingAndGlyphs">2700</text>
<text x="43.00" y="483.80" font-size="12.2" font-weight="bold" fill="#1a1a1a" textLength="26.58" lengthAdjust="spacingAndGlyphs">3000</text>
<text x="69.70" y="787.70" font-size="12.2" font-weight="bold" fill="#1a1a1a" textLength="20.94" lengthAdjust="spacingAndGlyphs">1. 6.</text>
<text x="571.60" y="787.70" font-size="12.2" font-weight="bold" fill="#1a1a1a" textLength="28.77" lengthAdjust="spacingAndGlyphs">1. 11.</text>
<text x="704.20" y="774.40" font-size="11.6" font-weight="bold" fill="#1a1a1a" textLength="7.31" lengthAdjust="spacingAndGlyphs">0</text>
<text x="677.00" y="745.42" font-size="11.6" font-weight="bold" fill="#1a1a1a" textLength="34.48" lengthAdjust="spacingAndGlyphs">40000</text>
<text x="677.00" y="716.44" font-size="11.6" font-weight="bold" fill="#1a1a1a" textLength="34.48" lengthAdjust="spacingAndGlyphs">80000</text>
<text x="670.20" y="687.46" font-size="11.6" font-weight="bold" fill="#1a1a1a" textLength="41.28" lengthAdjust="spacingAndGlyphs">120000</text>
<text x="670.20" y="658.48" font-size="11.6" font-weight="bold" fill="#1a1a1a" textLength="41.28" lengthAdjust="spacingAndGlyphs">160000</text>
<text x="670.20" y="629.50" font-size="11.6" font-weight="bold" fill="#1a1a1a" textLength="41.28" lengthAdjust="spacingAndGlyphs">200000</text>
<text x="670.20" y="600.52" font-size="11.6" font-weight="bold" fill="#1a1a1a" textLength="41.28" lengthAdjust="spacingAndGlyphs">240000</text>
<text x="670.20" y="571.54" font-size="11.6" font-weight="bold" fill="#1a1a1a" textLength="41.28" lengthAdjust="spacingAndGlyphs">280000</text>
<text x="670.20" y="542.56" font-size="11.6" font-weight="bold" fill="#1a1a1a" textLength="41.28" lengthAdjust="spacingAndGlyphs">320000</text>
<text x="670.20" y="513.58" font-size="11.6" font-weight="bold" fill="#1a1a1a" textLength="41.28" lengthAdjust="spacingAndGlyphs">360000</text>
<text x="670.20" y="484.60" font-size="11.6" font-weight="bold" fill="#1a1a1a" textLength="41.28" lengthAdjust="spacingAndGlyphs">400000</text>
<text x="711.00" y="789.00" font-size="12.2" font-weight="bold" fill="#1a1a1a" textLength="21.55" lengthAdjust="spacingAndGlyphs">1. 6.</text>
<text x="1213.50" y="789.00" font-size="12.2" font-weight="bold" fill="#1a1a1a" textLength="28.37" lengthAdjust="spacingAndGlyphs">1. 11.</text>
</svg>
</body></html>
